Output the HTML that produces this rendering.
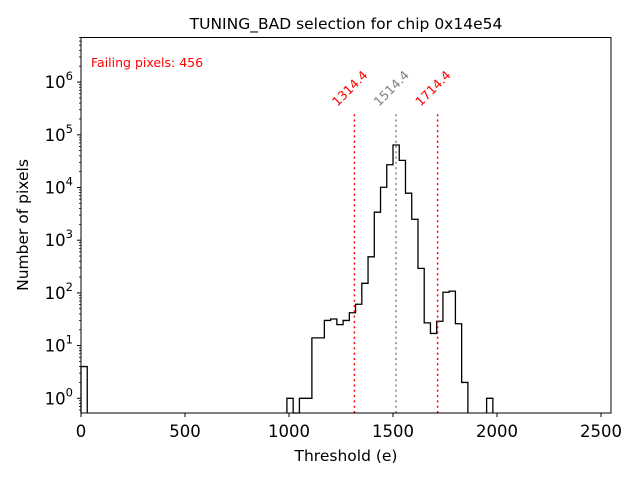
<!DOCTYPE html>
<html><head><meta charset="utf-8"><style>
body{margin:0;background:#fff}
svg{font-family:"DejaVu Sans","Liberation Sans",sans-serif}
</style></head><body>
<svg id="chart" width="640" height="480" viewBox="0 0 640 480" xmlns="http://www.w3.org/2000/svg">
<rect width="640" height="480" fill="#fff"/>
<g id="plot"></g>
</svg>
<script>
const binStarts=[0,990,1020,1050,1080,1110,1140,1170,1200,1230,1260,1290,1320,1350,1380,1410,1440,1470,1500,1530,1560,1590,1620,1650,1680,1710,1740,1770,1800,1830,1950];
const counts=[4,1,0,1,1,14,14,30,32,25,30,42,61,152,484,3400,10100,27000,64000,32700,7800,2500,292,27,17,29,103,108,26,2,1];
const binWidth=30;
const xTicks=[0,500,1000,1500,2000,2500];
const yDecades=[0,1,2,3,4,5,6];
const markerValues=[1314.4,1514.4,1714.4];
const markerLabels=["1314.4","1514.4","1714.4"];
const markerColors=["red","gray","red"];
const failingText="Failing pixels: 456";

const L=81,R=611,T=37.5,B=413;
const xMin=0,xMax=2548;
const y0px=398.3,decPx=52.7;
const xs=v=>L+(v-xMin)/(xMax-xMin)*(R-L);
const ys=v=>v<=0?B:Math.min(B,y0px-Math.log10(v)*decPx);
const NS="http://www.w3.org/2000/svg";
const g=document.getElementById('plot');
function mk(tag,attrs,txt){const e=document.createElementNS(NS,tag);for(const k in attrs)e.setAttribute(k,attrs[k]);if(txt!==undefined)e.textContent=txt;g.appendChild(e);return e;}

let d="";
for(let i=0;i<binStarts.length;i++){
  const a=binStarts[i],b=a+binWidth,y=ys(counts[i]);
  const prevEnd=i>0?binStarts[i-1]+binWidth:null;
  if(i===0||prevEnd!==a){ d+=`M${xs(a)},${B}`; }
  d+=`L${xs(a)},${y}L${xs(b)},${y}`;
  const next=i<binStarts.length-1?binStarts[i+1]:null;
  if(next!==b) d+=`L${xs(b)},${B}`;
}
const hist=mk('path',{d:d,fill:'none',stroke:'#000','stroke-width':1.3});



const lineTop=ys(2.5e5);
markerValues.forEach((v,i)=>{
  const x=xs(v);
  const ln=mk('line',{x1:x,x2:x,y1:B,y2:lineTop,stroke:markerColors[i],'stroke-width':1.5,'stroke-dasharray':'2,3.3'});
  
  
  const t=mk('text',{x:x-17,y:lineTop-7,fill:markerColors[i],'font-size':12.5,transform:`rotate(-45 ${x-17} ${lineTop-7})`},markerLabels[i]);
  
  
});

const fr=mk('rect',{x:L,y:T,width:R-L,height:B-T,fill:'none',stroke:'#000','stroke-width':1});



xTicks.forEach(v=>{
  const x=xs(v);
  mk('line',{x1:x,x2:x,y1:B,y2:B+4,stroke:'#000'});
  const t=mk('text',{x:x,y:B+24,'text-anchor':'middle','font-size':16.5},String(v));
  
  
});
yDecades.forEach(k=>{
  const y=y0px-k*decPx;
  mk('line',{x1:L-4,x2:L,y1:y,y2:y,stroke:'#000'});
  const t=mk('text',{x:L-8,y:y+6,'text-anchor':'end','font-size':16.5});
  
  
  const s1=document.createElementNS(NS,'tspan');s1.textContent='10';t.appendChild(s1);
  const s2=document.createElementNS(NS,'tspan');s2.textContent=String(k);s2.setAttribute('font-size','11.5');s2.setAttribute('dy','-8');t.appendChild(s2);
});
for(let k=-1;k<=6;k++){for(let m=2;m<=9;m++){const y=y0px-(k+Math.log10(m))*decPx;if(y>T&&y<B)mk('line',{x1:L-2,x2:L,y1:y,y2:y,stroke:'#000','stroke-width':0.8});}}

const tt=mk('text',{x:346,y:29,'text-anchor':'middle','font-size':15.5},'TUNING_BAD selection for chip 0x14e54');

const xl=mk('text',{x:346,y:461,'text-anchor':'middle','font-size':15.5},'Threshold (e)');

const yl=mk('text',{x:28,y:225,'text-anchor':'middle','font-size':15.5,transform:'rotate(-90 28 225)'},'Number of pixels');

const ft=mk('text',{x:91,y:67,fill:'red','font-size':12.5},failingText);

</script>
</body></html>
